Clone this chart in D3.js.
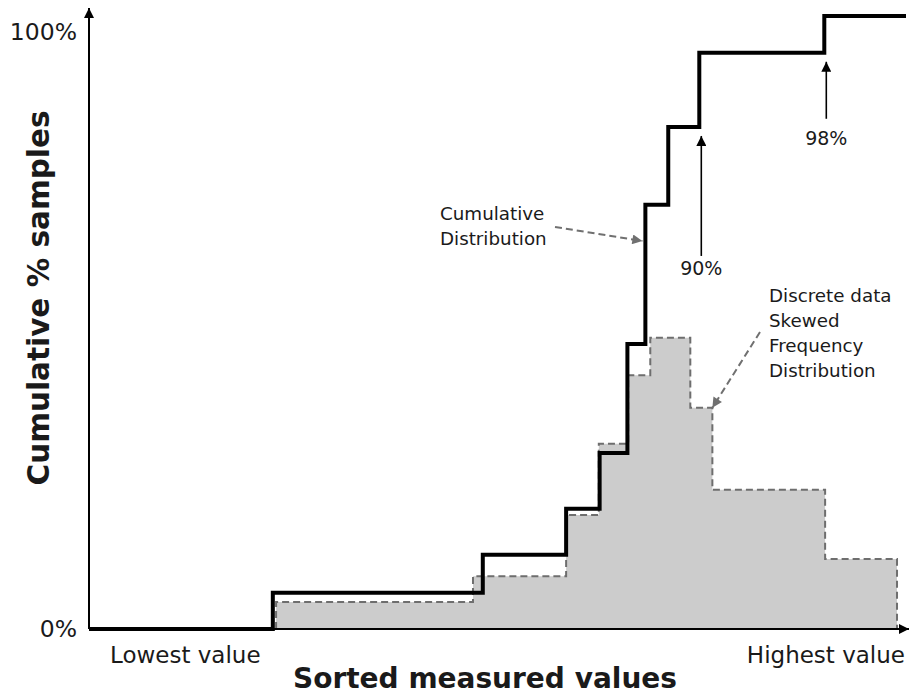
<!DOCTYPE html>
<html>
<head>
<meta charset="utf-8">
<script src="https://cdn.jsdelivr.net/npm/d3@7"></script>
<style>
  html, body { margin: 0; padding: 0; background: #fff; }
  svg { display: block; font-family: "DejaVu Sans", Verdana, sans-serif; }
</style>
</head>
<body>
<svg id="chart" width="909" height="695"></svg>
<script>
// ---- data (x in % of sorted range, y in cumulative %) ----
const cumEdges  = [0, 22.5, 48.2, 58.4, 62.5, 65.9, 68.1, 70.9, 74.7, 90.0, 100];
const cumValues = [0, 5.9, 12.1, 19.6, 28.7, 46.5, 69.2, 81.9, 94.0, 100];

const freqEdges  = [22.9, 47.0, 58.4, 62.4, 66.0, 68.7, 73.6, 76.3, 90.1, 98.9];
const freqValues = [4.4, 8.6, 18.6, 30.2, 41.4, 47.5, 36.1, 22.7, 11.4];

const yTickValues = [0, 100];
const yTickLabels = ["0%", "100%"];
const xEndLabels  = ["Lowest value", "Highest value"];

const xTitle = "Sorted measured values";
const yTitle = "Cumulative % samples";

// pointer annotations: label, step edge index, step level index
const pctNotes = [
  { label: "90%", edge: 8, level: 7 },
  { label: "98%", edge: 9, level: 8 }
];
const pctArrowLen = [120, 57];
const pctLabelGap = [12, 19];

// ---- layout ----
const svg = d3.select("#chart");
const x = d3.scaleLinear().domain([0, 100]).range([89, 906]);
const y = d3.scaleLinear().domain([0, 100]).range([629, 16]);

const defs = svg.append("defs");
function marker(id, w, h, color) {
  defs.append("marker").attr("id", id)
    .attr("viewBox", "0 0 10 10").attr("refX", 10).attr("refY", 5)
    .attr("markerWidth", w).attr("markerHeight", h).attr("markerUnits", "userSpaceOnUse")
    .attr("orient", "auto")
    .append("path").attr("d", "M0,0 L10,5 L0,10 Z").attr("fill", color);
}
marker("arrBlack", 14, 10, "#000");
marker("arrAxis", 16, 10, "#000");
marker("arrGrey", 14, 10, "#707070");

// ---- frequency histogram (grey, dashed outline) ----
const histData = freqValues.map((v, i) => [freqEdges[i], v])
  .concat([[freqEdges[freqEdges.length - 1], 0]]);
const histLine = d3.line().x(d => x(d[0])).y(d => y(d[1])).curve(d3.curveStepAfter);
const histArea = d3.area().x(d => x(d[0])).y0(y(0)).y1(d => y(d[1])).curve(d3.curveStepAfter);

svg.append("path").datum(histData)
  .attr("d", histArea)
  .attr("fill", "#cccccc");
svg.append("path").datum([[freqEdges[0], 0]].concat(histData))
  .attr("d", histLine)
  .attr("fill", "none")
  .attr("stroke", "#6e6e6e")
  .attr("stroke-width", 2)
  .attr("stroke-dasharray", "7,4");

// ---- axes ----
svg.append("line")
  .attr("x1", x(0)).attr("y1", y(0)).attr("x2", x(0)).attr("y2", 8)
  .attr("stroke", "#000").attr("stroke-width", 2)
  .attr("marker-end", "url(#arrAxis)");
svg.append("line")
  .attr("x1", x(0)).attr("y1", y(0)).attr("x2", 909).attr("y2", y(0))
  .attr("stroke", "#000").attr("stroke-width", 2)
  .attr("marker-end", "url(#arrAxis)");

// ---- cumulative step line ----
const cumData = cumValues.map((v, i) => [cumEdges[i], v])
  .concat([[cumEdges[cumEdges.length - 1], cumValues[cumValues.length - 1]]]);
const cumLine = d3.line().x(d => x(d[0])).y(d => y(d[1])).curve(d3.curveStepAfter);
svg.append("path").datum(cumData)
  .attr("d", cumLine)
  .attr("fill", "none")
  .attr("stroke", "#000")
  .attr("stroke-width", 4)
  .attr("stroke-linejoin", "miter");

// ---- tick labels ----
const textColor = "#1a1a1a";
svg.selectAll(".ytick").data(yTickValues).enter().append("text")
  .attr("class", "ytick")
  .attr("x", 77)
  .attr("y", (d, i) => y(d) + (i === 1 ? 16 : 0))
  .attr("dy", "0.36em")
  .attr("text-anchor", "end")
  .attr("font-size", 23.5)
  .attr("fill", textColor)
  .text((d, i) => yTickLabels[i]);

svg.append("text").attr("x", 110).attr("y", 655).attr("dy", "0.36em")
  .attr("text-anchor", "start").attr("font-size", 23).attr("fill", textColor)
  .text(xEndLabels[0]);
svg.append("text").attr("x", 905).attr("y", 655).attr("dy", "0.36em")
  .attr("text-anchor", "end").attr("font-size", 23).attr("fill", textColor)
  .text(xEndLabels[1]);

// ---- axis titles ----
svg.append("text").attr("x", 485).attr("y", 678).attr("dy", "0.36em")
  .attr("text-anchor", "middle").attr("font-size", 28).attr("font-weight", "bold")
  .attr("fill", textColor).text(xTitle);
svg.append("text")
  .attr("transform", "translate(38,298) rotate(-90)")
  .attr("dy", "0.36em")
  .attr("text-anchor", "middle").attr("font-size", 29.5).attr("font-weight", "bold")
  .attr("fill", textColor).text(yTitle);

// ---- percentage pointer arrows ----
pctNotes.forEach((n, k) => {
  const ax = x(cumEdges[n.edge]) + 2;
  const tipY = y(cumValues[n.level]) + 9;
  const tailY = tipY + pctArrowLen[k];
  svg.append("line")
    .attr("x1", ax).attr("y1", tailY).attr("x2", ax).attr("y2", tipY)
    .attr("stroke", "#000").attr("stroke-width", 1.6)
    .attr("marker-end", "url(#arrBlack)");
  svg.append("text")
    .attr("x", ax).attr("y", tailY + pctLabelGap[k])
    .attr("dy", "0.36em").attr("text-anchor", "middle")
    .attr("font-size", 19).attr("fill", textColor).text(n.label);
});

// ---- callouts ----
const cumNote = ["Cumulative", "Distribution"];
svg.append("g").selectAll("text").data(cumNote).enter().append("text")
  .attr("x", 440).attr("y", (d, i) => 213 + i * 25).attr("dy", "0.36em")
  .attr("font-size", 18.3).attr("fill", textColor).text(d => d);
svg.append("line")
  .attr("x1", 555).attr("y1", 227).attr("x2", x(cumEdges[6]) - 3).attr("y2", 241)
  .attr("stroke", "#707070").attr("stroke-width", 2).attr("stroke-dasharray", "7,4")
  .attr("marker-end", "url(#arrGrey)");

const freqNote = ["Discrete data", "Skewed", "Frequency", "Distribution"];
svg.append("g").selectAll("text").data(freqNote).enter().append("text")
  .attr("x", 769).attr("y", (d, i) => 295 + i * 25).attr("dy", "0.36em")
  .attr("font-size", 18.3).attr("fill", textColor).text(d => d);
svg.append("line")
  .attr("x1", 760).attr("y1", 332).attr("x2", x(freqEdges[7])).attr("y2", y(freqValues[6]))
  .attr("stroke", "#707070").attr("stroke-width", 2).attr("stroke-dasharray", "7,4")
  .attr("marker-end", "url(#arrGrey)");
</script>
</body>
</html>
